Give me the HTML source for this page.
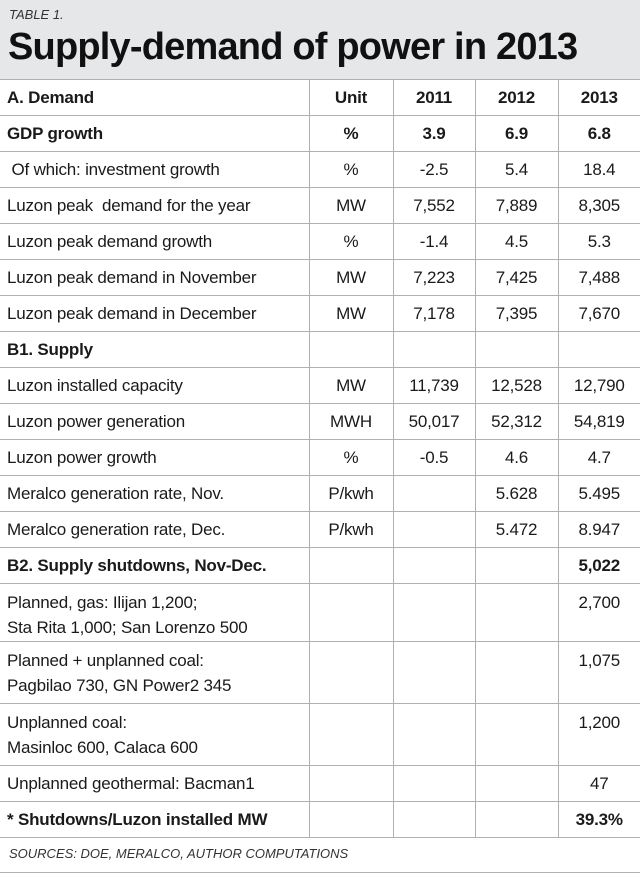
<!DOCTYPE html>
<html><head><meta charset="utf-8"><style>
html,body{margin:0;padding:0;background:#fff;}
body{width:640px;height:875px;position:relative;overflow:hidden;font-family:"Liberation Sans Narrow","Liberation Sans",sans-serif;color:#1a1a1a;}
#hdr{position:absolute;left:0;top:0;width:640px;height:79px;background:#e6e7e8;border-bottom:1px solid #9a9a9a;}
#lbl{position:absolute;left:9px;top:7px;font-size:13px;font-style:italic;color:#333;}
#ttl{position:absolute;left:8px;top:26px;font-size:38px;font-weight:bold;letter-spacing:-0.8px;color:#111;white-space:nowrap;}
table{position:absolute;left:0;top:79px;width:640px;border-collapse:collapse;table-layout:fixed;}
td{border:1px solid #b0b0b0;font-size:17px;padding:0 7px;white-space:nowrap;height:35px;vertical-align:middle;letter-spacing:-0.2px;}
td:first-child{border-left:none;}
td:last-child{border-right:none;}
td.c{text-align:center;}
.b td{font-weight:bold;}
.two td{height:55px;vertical-align:top;padding-top:6px;line-height:25px;}
#src{position:absolute;left:9px;top:846px;font-size:13px;font-style:italic;color:#333;}
</style></head><body>
<div id="hdr">
<div id="lbl">TABLE 1.</div>
<div id="ttl">Supply-demand of power in 2013</div>
</div>
<table>
<colgroup><col style="width:309px"><col style="width:84px"><col style="width:82px"><col style="width:83px"><col style="width:82px"></colgroup>
<tr class="b"><td>A. Demand</td><td class="c">Unit</td><td class="c">2011</td><td class="c">2012</td><td class="c">2013</td></tr>
<tr class="b"><td>GDP growth</td><td class="c">%</td><td class="c">3.9</td><td class="c">6.9</td><td class="c">6.8</td></tr>
<tr><td>&nbsp;Of which: investment growth</td><td class="c">%</td><td class="c">-2.5</td><td class="c">5.4</td><td class="c">18.4</td></tr>
<tr><td>Luzon peak&nbsp; demand for the year</td><td class="c">MW</td><td class="c">7,552</td><td class="c">7,889</td><td class="c">8,305</td></tr>
<tr><td>Luzon peak demand growth</td><td class="c">%</td><td class="c">-1.4</td><td class="c">4.5</td><td class="c">5.3</td></tr>
<tr><td>Luzon peak demand in November</td><td class="c">MW</td><td class="c">7,223</td><td class="c">7,425</td><td class="c">7,488</td></tr>
<tr><td>Luzon peak demand in December</td><td class="c">MW</td><td class="c">7,178</td><td class="c">7,395</td><td class="c">7,670</td></tr>
<tr class="b"><td>B1. Supply</td><td></td><td></td><td></td><td></td></tr>
<tr><td>Luzon installed capacity</td><td class="c">MW</td><td class="c">11,739</td><td class="c">12,528</td><td class="c">12,790</td></tr>
<tr><td>Luzon power generation</td><td class="c">MWH</td><td class="c">50,017</td><td class="c">52,312</td><td class="c">54,819</td></tr>
<tr><td>Luzon power growth</td><td class="c">%</td><td class="c">-0.5</td><td class="c">4.6</td><td class="c">4.7</td></tr>
<tr><td>Meralco generation rate, Nov.</td><td class="c">P/kwh</td><td></td><td class="c">5.628</td><td class="c">5.495</td></tr>
<tr><td>Meralco generation rate, Dec.</td><td class="c">P/kwh</td><td></td><td class="c">5.472</td><td class="c">8.947</td></tr>
<tr class="b"><td>B2. Supply shutdowns, Nov-Dec.</td><td></td><td></td><td></td><td class="c">5,022</td></tr>
<tr class="two"><td style="height:51px">Planned, gas: Ilijan 1,200;<br>Sta Rita 1,000; San Lorenzo 500</td><td style="height:51px"></td><td style="height:51px"></td><td style="height:51px"></td><td class="c" style="height:51px">2,700</td></tr>
<tr class="two"><td>Planned + unplanned coal:<br>Pagbilao 730, GN Power2 345</td><td></td><td></td><td></td><td class="c">1,075</td></tr>
<tr class="two"><td>Unplanned coal:<br>Masinloc 600, Calaca 600</td><td></td><td></td><td></td><td class="c">1,200</td></tr>
<tr><td>Unplanned geothermal: Bacman1</td><td></td><td></td><td></td><td class="c">47</td></tr>
<tr class="b"><td>* Shutdowns/Luzon installed MW</td><td></td><td></td><td></td><td class="c">39.3%</td></tr>
<tr><td colspan="5" style="height:34px"></td></tr>
</table>
<div id="src">SOURCES: DOE, MERALCO, AUTHOR COMPUTATIONS</div>
</body></html>
